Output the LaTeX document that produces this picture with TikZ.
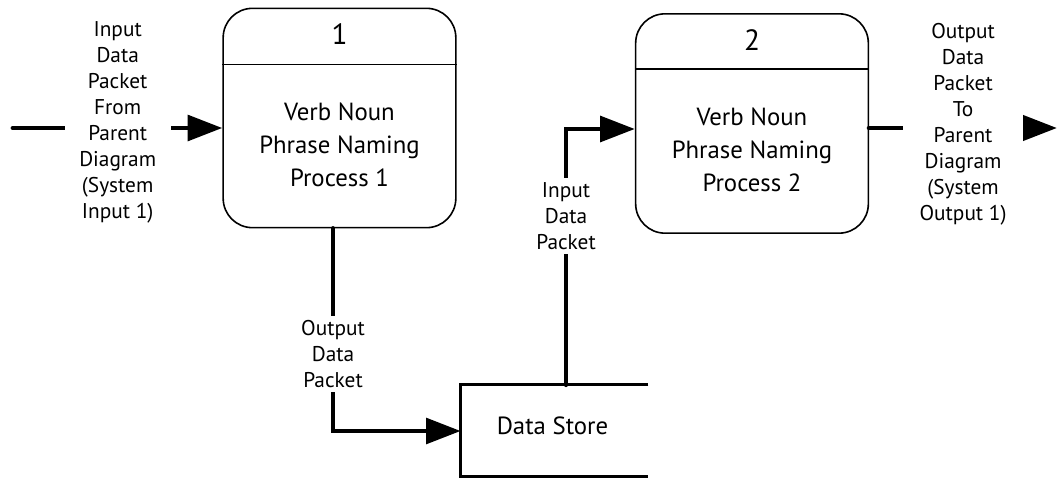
\documentclass[tikz,border=0pt]{standalone}
\usepackage{fontspec}
\setmainfont{PT Sans}
\usetikzlibrary{arrows.meta, positioning, calc}

\tikzset{
    process/.style={draw, line width=1.2pt, rounded corners=22pt,
        minimum width=174.5pt, minimum height=164.5pt, inner sep=0pt},
    divider/.style={line width=1.2pt},
    storeline/.style={line width=2pt},
    flow/.style={line width=3.6pt, line cap=round},
    flowarrow/.style={flow, -{Triangle[length=26pt, width=19pt]}},
    lbl/.style={align=center, fill=white, inner xsep=11pt, inner ysep=3pt,
        font=\fontsize{16}{19.5}\selectfont},
    body/.style={align=center, font=\fontsize{18.6}{24.75}\selectfont},
    title/.style={font=\fontsize{22}{26}\selectfont},
}

\begin{document}
\begin{tikzpicture}[x=0.75pt, y=-0.75pt]
    \useasboundingbox (0,0) rectangle (1059,478);

    % --- processes ---
    \node [process] (p1) at (339.5,118) {};
    \node [process] (p2) at (752,123.5) {};
    \draw [divider] ($(p1.north west)+(0,57)$) -- ($(p1.north east)+(0,57)$);
    \draw [divider] ($(p2.north west)+(0,56)$) -- ($(p2.north east)+(0,56)$);
    \node [title] (t1) at ($(p1.north)+(0,27)$) {1};
    \node [title] (t2) at ($(p2.north)+(0,27)$) {2};
    \node [body] (b1) at ($(p1.center)+(0,27)$) {Verb Noun\\Phrase Naming\\Process 1};
    \node [body] (b2) at ($(p2.center)+(0,26.5)$) {Verb Noun\\Phrase Naming\\Process 2};

    % --- data store (open on the right) ---
    \node [minimum width=140.25pt, minimum height=68.25pt, inner sep=0pt] (ds) at (554.5,430.5) {};
    \draw [storeline] (ds.north east) -- (ds.north west) -- (ds.south west) -- (ds.south east);
    \node [body] (dst) at ($(ds.center)+(-2,-5)$) {Data Store};

    % --- flows ---
    \coordinate (src) at (13,128);
    \coordinate (sink) at (1057,128);
    \coordinate (c1) at (333,431);
    \coordinate (c2) at (566,129);

    \draw [flowarrow] (src) -- node [lbl, yshift=4pt]
        {Input\\Data\\Packet\\From\\Parent\\Diagram\\(System\\Input 1)} (p1.west |- src);
    \draw [flowarrow] (p2.east |- sink) -- node [lbl, yshift=3pt, inner xsep=12.5pt]
        {Output\\Data\\Packet\\To\\Parent\\Diagram\\(System\\Output 1)} (sink);
    \draw [flowarrow] (p1.south -| c1) -- node [lbl, pos=0.62] {Output\\Data\\Packet} (c1) -- (ds.west |- c1);
    \draw [flowarrow] (ds.north -| c2) -- node [lbl, pos=0.66] {Input\\Data\\Packet} (c2) -- (p2.west |- c2);

\end{tikzpicture}
\end{document}
